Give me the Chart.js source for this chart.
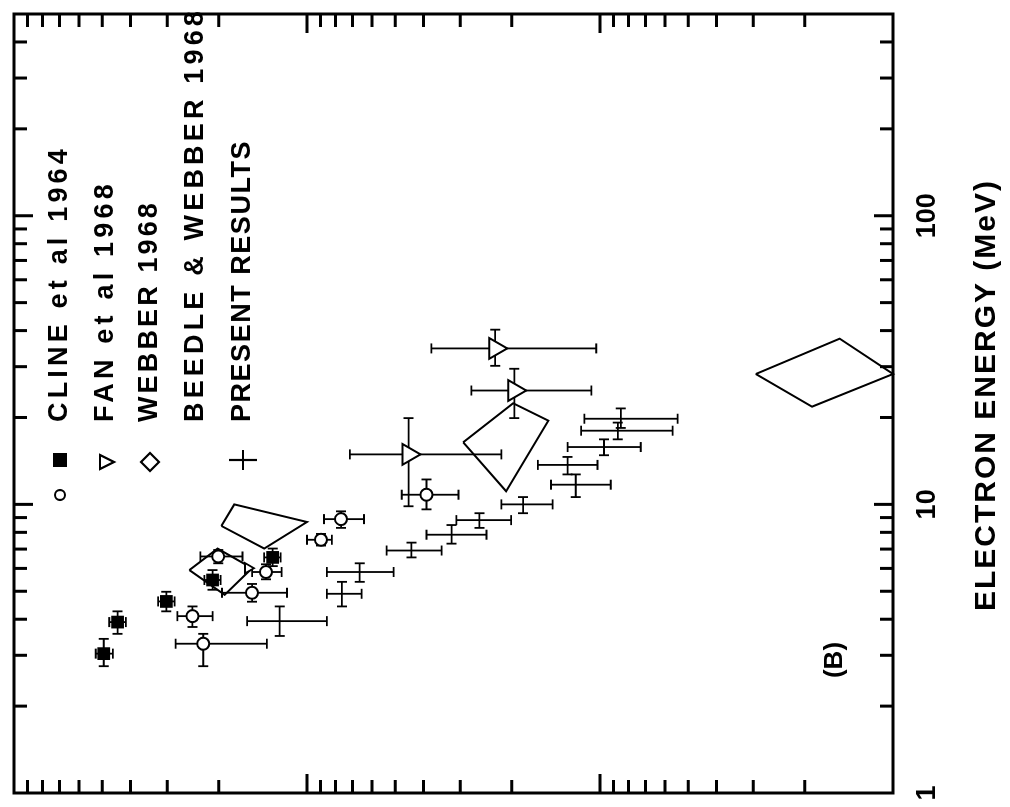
<!DOCTYPE html>
<html>
<head>
<meta charset="utf-8">
<script src="https://cdn.jsdelivr.net/npm/chart.js@4.4.1/dist/chart.umd.min.js"></script>
<style>
  html, body { margin: 0; padding: 0; background: #fff; overflow: hidden; }
  /* the figure is printed sideways, so the canvas is turned a quarter left */
  #wrap { position: absolute; left: 0; top: 0; width: 807px; height: 1010px;
          transform-origin: 0 0; transform: translate(0px, 807px) rotate(-90deg); }
</style>
</head>
<body>
<div id="wrap"><canvas id="spectrumChart" width="807" height="1010"></canvas></div>
<script>
// energy in MeV, flux in arbitrary units (the flux axis carries no numbers)
const clineSqEnergy = [3.04, 3.91, 4.61, 5.47, 6.55];
const clineSqFlux = [49.4, 44.3, 30.2, 21.0, 13.1];
const clineSqEnergyLo = [2.75, 3.56, 4.26, 5.06, 6.11];
const clineSqEnergyHi = [3.42, 4.26, 4.98, 5.92, 7.03];
const clineSqFluxLo = [46.0, 41.5, 28.3, 19.7, 12.3];
const clineSqFluxHi = [52.6, 47.3, 32.2, 22.4, 14.0];

const clineCircEnergy = [3.29, 4.10, 6.60, 4.94, 5.83, 7.54, 8.89, 10.8];
const clineCircFlux = [22.6, 24.6, 20.1, 15.4, 13.8, 8.96, 7.65, 3.91];
const clineCircEnergyLo = [2.75, 3.76, 6.25, 4.60, 5.50, 7.20, 8.29, 9.61];
const clineCircEnergyHi = [3.56, 4.43, 6.95, 5.30, 6.20, 7.90, 9.46, 12.2];
const clineCircFluxLo = [13.7, 21.0, 16.6, 11.7, 12.2, 8.22, 6.39, 3.04];
const clineCircFluxHi = [28.1, 27.7, 23.1, 19.5, 15.4, 10.0, 8.75, 4.75];

const fanEnergy = [14.9, 24.8, 34.7];
const fanFlux = [4.50, 1.96, 2.28];
const fanEnergyLo = [9.85, 19.9, 30.2];
const fanEnergyHi = [19.9, 29.5, 40.3];
const fanFluxLo = [2.17, 1.07, 1.03];
const fanFluxHi = [7.14, 2.75, 3.76];
// one small triangle sits among the low-energy points
const fanSmallEnergy = [6.01];
const fanSmallFlux = [15.9];

const presentEnergy = [3.94, 4.90, 5.83, 6.92, 7.85, 8.82, 10.0, 11.7, 13.7, 15.8, 18.0, 19.8];
const presentFlux = [12.4, 7.60, 6.61, 4.40, 3.21, 2.58, 1.83, 1.21, 1.29, 0.969, 0.869, 0.849];
const presentEnergyLo = [3.50, 4.43, 5.39, 6.55, 7.31, 8.29, 9.32, 10.6, 12.7, 14.8, 16.8, 18.4];
const presentEnergyHi = [4.43, 5.39, 6.25, 7.37, 8.48, 9.32, 10.6, 12.7, 14.6, 16.8, 19.2, 21.5];
const presentFluxLo = [8.55, 6.51, 5.06, 3.47, 2.44, 2.01, 1.45, 0.919, 1.02, 0.726, 0.565, 0.543];
const presentFluxHi = [16.0, 8.55, 8.55, 5.35, 3.91, 3.09, 2.17, 1.47, 1.63, 1.29, 1.16, 1.13];

// Webber 1968 boxes, four corners each
const webberEnergy = [[8.42, 10.0, 8.69, 7.03], [5.92, 7.03, 6.01, 4.86], [16.4, 22.4, 19.5, 11.1], [28.3, 37.5, 28.3, 21.8]];
const webberFlux = [[19.6, 17.7, 10.0, 14.0], [25.2, 20.2, 15.4, 19.1], [2.93, 1.98, 1.50, 2.09], [0.294, 0.152, 0.100, 0.189]];

const energyTickLabels = [1, 10, 100];
const energyMajorTicks = [10, 100];
const energyMinorTicks = [2, 3, 4, 5, 6, 7, 8, 9, 20, 30, 40, 50, 60, 70, 80, 90, 200, 300, 400];
const fluxMajorTicks = [1, 10];
const fluxMinorTicks = [0.2, 0.3, 0.4, 0.5, 0.6, 0.7, 0.8, 0.9, 2, 3, 4, 5, 6, 7, 8, 9, 20, 30, 40, 50, 60, 70, 80, 90];

const legendLabels = ['CLINE et al 1964', 'FAN et al 1968', 'WEBBER 1968', 'BEEDLE & WEBBER 1968', 'PRESENT RESULTS'];
const axisTitle = 'ELECTRON ENERGY (MeV)';
const panelLabel = '(B)';

const FONT = '"Liberation Sans", Arial, sans-serif';

function pts(xs, ys) {
    return xs.map((x, i) => ({ x: x, y: ys[i] }));
}

// spread the letters so a string fills the given length, like the hand lettering
function spacedText(ctx, text, x, y, width) {
    ctx.letterSpacing = '0px';
    const natural = ctx.measureText(text).width;
    const gap = Math.max(0, (width - natural) / text.length);
    ctx.letterSpacing = gap + 'px';
    ctx.fillText(text, x, y);
    ctx.letterSpacing = '0px';
}

const errorSets = [
    { e: clineSqEnergy, f: clineSqFlux, eLo: clineSqEnergyLo, eHi: clineSqEnergyHi, fLo: clineSqFluxLo, fHi: clineSqFluxHi },
    { e: clineCircEnergy, f: clineCircFlux, eLo: clineCircEnergyLo, eHi: clineCircEnergyHi, fLo: clineCircFluxLo, fHi: clineCircFluxHi },
    { e: fanEnergy, f: fanFlux, eLo: fanEnergyLo, eHi: fanEnergyHi, fLo: fanFluxLo, fHi: fanFluxHi },
    { e: presentEnergy, f: presentFlux, eLo: presentEnergyLo, eHi: presentEnergyHi, fLo: presentFluxLo, fHi: presentFluxHi }
];

// error bars go under the markers
const errorBars = {
    id: 'errorBars',
    beforeDatasetsDraw(chart) {
        const ctx = chart.ctx, xs = chart.scales.x, ys = chart.scales.y;
        const cap = 5;
        ctx.save();
        ctx.strokeStyle = '#000';
        ctx.lineWidth = 1.8;
        errorSets.forEach(s => {
            s.e.forEach((e, i) => {
                const px = xs.getPixelForValue(e), py = ys.getPixelForValue(s.f[i]);
                const x0 = xs.getPixelForValue(s.eLo[i]), x1 = xs.getPixelForValue(s.eHi[i]);
                const y0 = ys.getPixelForValue(s.fLo[i]), y1 = ys.getPixelForValue(s.fHi[i]);
                ctx.beginPath();
                ctx.moveTo(x0, py); ctx.lineTo(x1, py);
                ctx.moveTo(x0, py - cap); ctx.lineTo(x0, py + cap);
                ctx.moveTo(x1, py - cap); ctx.lineTo(x1, py + cap);
                ctx.moveTo(px, y0); ctx.lineTo(px, y1);
                ctx.moveTo(px - cap, y0); ctx.lineTo(px + cap, y0);
                ctx.moveTo(px - cap, y1); ctx.lineTo(px + cap, y1);
                ctx.stroke();
            });
        });
        ctx.restore();
    }
};

// frame with inward ticks, tick labels, title, legend
const frame = {
    id: 'frame',
    afterDraw(chart) {
        const ctx = chart.ctx, a = chart.chartArea, xs = chart.scales.x, ys = chart.scales.y;
        ctx.save();
        ctx.strokeStyle = '#000';
        ctx.fillStyle = '#000';
        ctx.lineWidth = 3;
        ctx.strokeRect(a.left, a.top, a.right - a.left, a.bottom - a.top);
        ctx.beginPath();
        const tickX = (v, len) => {
            const p = xs.getPixelForValue(v);
            ctx.moveTo(p, a.top); ctx.lineTo(p, a.top + len);
            ctx.moveTo(p, a.bottom); ctx.lineTo(p, a.bottom - len);
        };
        const tickY = (v, len) => {
            const p = ys.getPixelForValue(v);
            ctx.moveTo(a.left, p); ctx.lineTo(a.left + len, p);
            ctx.moveTo(a.right, p); ctx.lineTo(a.right - len, p);
        };
        energyMinorTicks.forEach(v => tickX(v, 13));
        energyMajorTicks.forEach(v => tickX(v, 19));
        fluxMinorTicks.forEach(v => tickY(v, 13));
        fluxMajorTicks.forEach(v => tickY(v, 19));
        ctx.stroke();

        ctx.textBaseline = 'middle';
        ctx.textAlign = 'center';
        ctx.font = 'bold 27px ' + FONT;
        energyTickLabels.forEach(v => {
            ctx.fillText(String(v), xs.getPixelForValue(v), a.bottom + 35);
        });

        ctx.textAlign = 'left';
        ctx.font = 'bold 30px ' + FONT;
        spacedText(ctx, axisTitle, 196, a.bottom + 94, 432);

        ctx.textAlign = 'center';
        ctx.font = 'bold 26px ' + FONT;
        ctx.fillText(panelLabel, 147, 835);

        // legend
        ctx.textAlign = 'left';
        ctx.font = 'bold 27px ' + FONT;
        const rows = [60, 106, 150, 196, 243];
        const widths = [277, 242, 222, 415, 282];
        legendLabels.forEach((t, i) => spacedText(ctx, t, 385, rows[i], widths[i]));
        ctx.lineWidth = 2.2;
        // open circle and filled square
        ctx.beginPath(); ctx.arc(312, rows[0], 5, 0, Math.PI * 2); ctx.stroke();
        ctx.fillRect(340, rows[0] - 7, 14, 14);
        // triangle pointing down
        ctx.beginPath();
        ctx.moveTo(338, rows[1] - 6); ctx.lineTo(352, rows[1] - 6); ctx.lineTo(345, rows[1] + 8); ctx.closePath(); ctx.stroke();
        // diamond
        ctx.beginPath();
        ctx.moveTo(345, rows[2] - 9); ctx.lineTo(354, rows[2]); ctx.lineTo(345, rows[2] + 9); ctx.lineTo(336, rows[2]); ctx.closePath(); ctx.stroke();
        // plus
        ctx.beginPath();
        ctx.moveTo(337, rows[4]); ctx.lineTo(357, rows[4]);
        ctx.moveTo(347, rows[4] - 14); ctx.lineTo(347, rows[4] + 14);
        ctx.stroke();
        ctx.restore();
    }
};

const datasets = [
    {
        label: 'CLINE et al 1964 (squares)',
        data: pts(clineSqEnergy, clineSqFlux),
        pointStyle: 'rect', pointRadius: 9,
        backgroundColor: '#000', borderColor: '#000', borderWidth: 0
    },
    {
        label: 'CLINE et al 1964 (circles)',
        data: pts(clineCircEnergy, clineCircFlux),
        pointStyle: 'circle', pointRadius: 6,
        backgroundColor: '#fff', borderColor: '#000', borderWidth: 2
    },
    {
        label: 'FAN et al 1968',
        data: pts(fanEnergy, fanFlux),
        pointStyle: 'triangle', pointRotation: 180, pointRadius: 12,
        backgroundColor: '#fff', borderColor: '#000', borderWidth: 2
    },
    {
        label: 'FAN et al 1968 (small)',
        data: pts(fanSmallEnergy, fanSmallFlux),
        pointStyle: 'triangle', pointRotation: 180, pointRadius: 6,
        backgroundColor: '#fff', borderColor: '#000', borderWidth: 1.8
    },
    {
        label: 'PRESENT RESULTS',
        data: pts(presentEnergy, presentFlux),
        pointRadius: 0
    }
];

webberEnergy.forEach((es, k) => {
    const corners = pts(es, webberFlux[k]);
    datasets.push({
        label: 'WEBBER 1968',
        data: corners.concat([corners[0]]),
        showLine: true, pointRadius: 0,
        borderColor: '#000', borderWidth: 2,
        fill: false, clip: false
    });
});

const ctx = document.getElementById('spectrumChart').getContext('2d');
const spectrumChart = new Chart(ctx, {
    type: 'scatter',
    data: { datasets: datasets },
    options: {
        responsive: false,
        animation: false,
        devicePixelRatio: 1,
        layout: { padding: { left: 10, right: 3, top: 11, bottom: 117 } },
        scales: {
            x: { type: 'logarithmic', min: 1, max: 500, display: false },
            y: { type: 'logarithmic', min: 0.1, max: 100, display: false }
        },
        plugins: {
            legend: { display: false },
            tooltip: { enabled: false }
        }
    },
    plugins: [errorBars, frame]
});
</script>
</body>
</html>
